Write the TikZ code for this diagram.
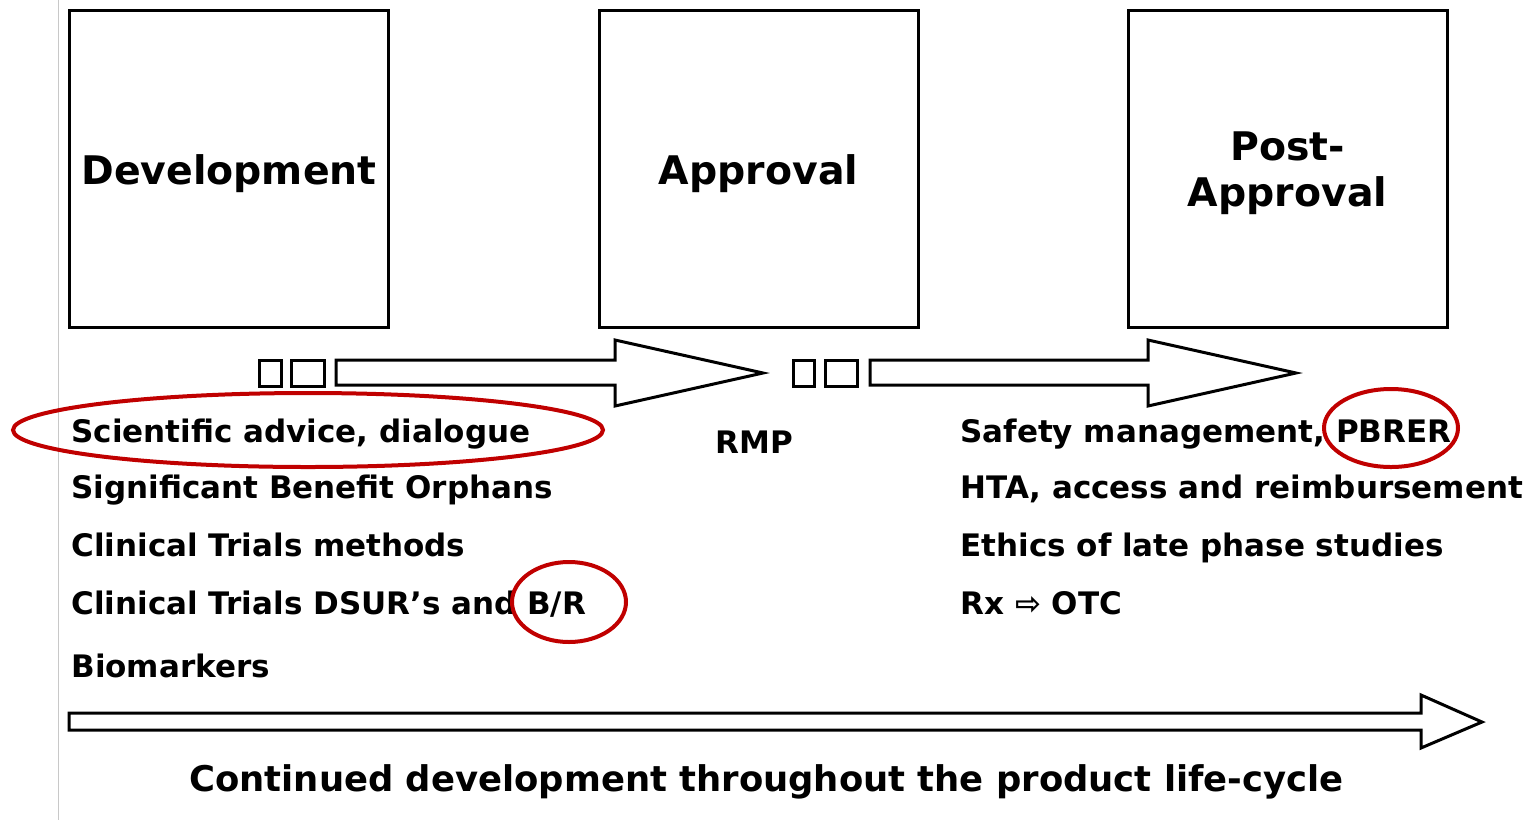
\documentclass[tikz,border=0pt]{standalone}
\usepackage{fontspec}
\setmainfont{DejaVu Sans}
\definecolor{circred}{HTML}{C00000}
\definecolor{edgegray}{HTML}{C8C8C8}
\begin{document}
\begin{tikzpicture}[x=0.5pt,y=-0.5pt,
  stagebox/.style={draw, line width=1.5pt, minimum width=159.5pt, minimum height=158.5pt, inner sep=0pt},
  title/.style={inner sep=0pt, align=center, font=\bfseries\fontsize{19.7}{23}\selectfont},
  lbl/.style={anchor=base west, inner sep=0pt, font=\bfseries\fontsize{15.5}{18}\selectfont},
  outl/.style={draw, line width=1.5pt, line join=miter, fill=white},
  redring/.style={draw=circred, line width=2pt}
]
\useasboundingbox (0,0) rectangle (1528,821);
\draw[edgegray, line width=0.5pt] (58,0) -- (58,820);

% stage boxes
\node[stagebox] (dev) at (228.5,168.5) {};
\node[stagebox] (appr) at (758.5,168.5) {};
\node[stagebox] (post) at (1287.5,168.5) {};
\node[title] (devt) at (229,174) {Development};
\node[title] (apprt) at (758.5,174) {Approval};
\node[title] (postt) at (1287.5,173) {Post-\\Approval};

% arrow 1
\draw[outl] (259,360) rectangle (281,386);
\draw[outl] (291,360) rectangle (324,386);
\draw[outl] (336,360) -- (615,360) -- (615,340) -- (763,373) -- (615,406) -- (615,385) -- (336,385) -- cycle;
% arrow 2
\draw[outl] (793,360) rectangle (814,386);
\draw[outl] (825,360) rectangle (857,386);
\draw[outl] (870,360) -- (1148,360) -- (1148,340) -- (1296,373) -- (1148,406) -- (1148,385) -- (870,385) -- cycle;
% big arrow
\draw[outl] (69,713) -- (1421,713) -- (1421,695) -- (1482,722) -- (1421,748) -- (1421,730) -- (69,730) -- cycle;

% left column
\node[lbl] (t1) at (71,442) {Scientific advice, dialogue};
\node[lbl] (t2) at (71,498) {Significant Benefit Orphans};
\node[lbl] (t3) at (71,556) {Clinical Trials methods};
\node[lbl] (t4) at (71,614) {Clinical Trials DSUR’s and B/R};
\node[lbl] (t5) at (71,677) {Biomarkers};
% middle
\node[lbl] (rmp) at (715,453) {RMP};
% right column
\node[lbl] (r1) at (960,442) {Safety management, PBRER};
\node[lbl] (r2) at (960,498) {HTA, access and reimbursement};
\node[lbl] (r3) at (960,556) {Ethics of late phase studies};
\node[lbl] (r4) at (960,614) {Rx ⇨ OTC};

% bottom caption
\node[anchor=base, inner sep=0pt, font=\bfseries\fontsize{17.7}{21}\selectfont] (cap) at (766.5,791) {Continued development throughout the product life-cycle};

% red marks
\draw[redring] (308,430) ellipse [x radius=147.5pt, y radius=18.5pt];
\draw[redring] (569,602) ellipse [x radius=28.5pt, y radius=20pt];
\draw[redring] (1391,428) ellipse [x radius=33.5pt, y radius=19.5pt];
\end{tikzpicture}
\end{document}
